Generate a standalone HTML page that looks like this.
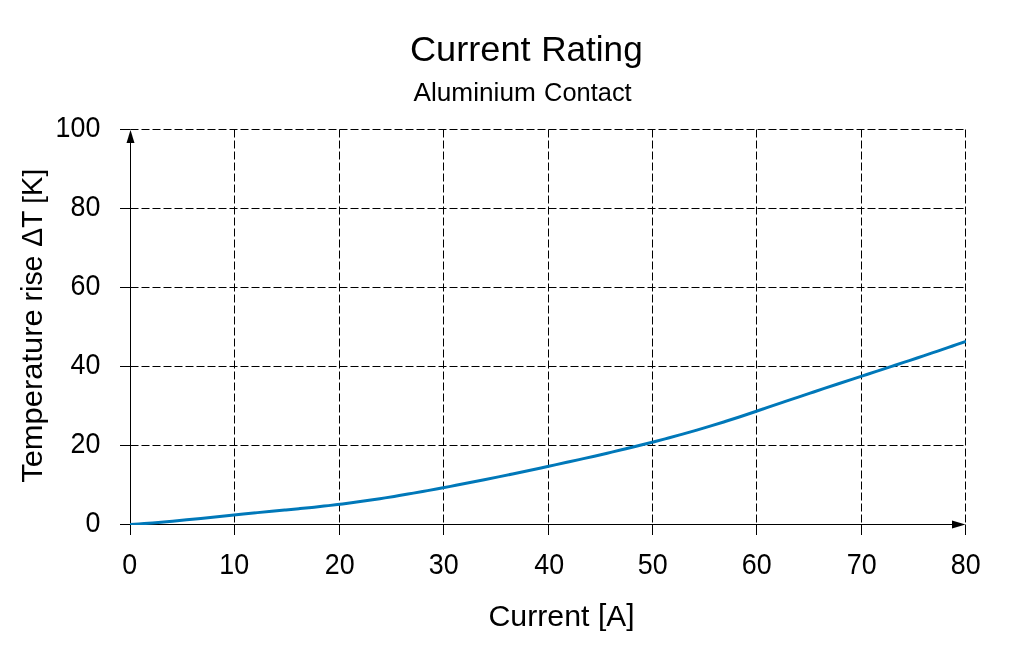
<!DOCTYPE html>
<html lang="en"><head><meta charset="utf-8"><title>Current Rating</title>
<style>html,body{margin:0;padding:0;background:#fff;}body{width:1024px;height:660px;overflow:hidden;}svg{display:block;}text{font-family:"Liberation Sans", sans-serif;fill:#000;}</style></head><body>
<svg width="1024" height="660" viewBox="0 0 1024 660">
<rect width="1024" height="660" fill="#fff"/>
<g stroke="#000" stroke-width="1" fill="none">
<line x1="130.50" y1="445.50" x2="965.50" y2="445.50" stroke-dasharray="8 3"/>
<line x1="130.50" y1="366.50" x2="965.50" y2="366.50" stroke-dasharray="8 3"/>
<line x1="130.50" y1="287.50" x2="965.50" y2="287.50" stroke-dasharray="8 3"/>
<line x1="130.50" y1="208.50" x2="965.50" y2="208.50" stroke-dasharray="8 3"/>
<line x1="130.50" y1="129.50" x2="965.50" y2="129.50" stroke-dasharray="8 3"/>
<line x1="234.50" y1="129.50" x2="234.50" y2="524.50" stroke-dasharray="8 3"/>
<line x1="339.50" y1="129.50" x2="339.50" y2="524.50" stroke-dasharray="8 3"/>
<line x1="443.50" y1="129.50" x2="443.50" y2="524.50" stroke-dasharray="8 3"/>
<line x1="548.50" y1="129.50" x2="548.50" y2="524.50" stroke-dasharray="8 3"/>
<line x1="652.50" y1="129.50" x2="652.50" y2="524.50" stroke-dasharray="8 3"/>
<line x1="756.50" y1="129.50" x2="756.50" y2="524.50" stroke-dasharray="8 3"/>
<line x1="861.50" y1="129.50" x2="861.50" y2="524.50" stroke-dasharray="8 3"/>
<line x1="965.50" y1="129.50" x2="965.50" y2="524.50" stroke-dasharray="8 3"/>
<line x1="120.00" y1="524.50" x2="130.50" y2="524.50"/>
<line x1="120.00" y1="445.50" x2="130.50" y2="445.50"/>
<line x1="120.00" y1="366.50" x2="130.50" y2="366.50"/>
<line x1="120.00" y1="287.50" x2="130.50" y2="287.50"/>
<line x1="120.00" y1="208.50" x2="130.50" y2="208.50"/>
<line x1="120.00" y1="129.50" x2="130.50" y2="129.50"/>
<line x1="130.50" y1="524.50" x2="130.50" y2="535.00"/>
<line x1="234.50" y1="524.50" x2="234.50" y2="535.00"/>
<line x1="339.50" y1="524.50" x2="339.50" y2="535.00"/>
<line x1="443.50" y1="524.50" x2="443.50" y2="535.00"/>
<line x1="548.50" y1="524.50" x2="548.50" y2="535.00"/>
<line x1="652.50" y1="524.50" x2="652.50" y2="535.00"/>
<line x1="756.50" y1="524.50" x2="756.50" y2="535.00"/>
<line x1="861.50" y1="524.50" x2="861.50" y2="535.00"/>
<line x1="965.50" y1="524.50" x2="965.50" y2="535.00"/>
<line x1="130.50" y1="535.00" x2="130.50" y2="139.50"/>
<line x1="120.00" y1="524.50" x2="955.50" y2="524.50"/>
</g>
<polygon points="130.50,130.00 126.50,143.00 134.50,143.00" fill="#000"/>
<polygon points="965.50,524.50 952.00,520.50 952.00,528.50" fill="#000"/>
<clipPath id="plotclip"><rect x="130" y="129" width="836" height="396"/></clipPath>
<path clip-path="url(#plotclip)" d="M130.00,524.53 C132.36,524.38 139.45,523.95 144.17,523.62 C148.89,523.28 153.62,522.90 158.34,522.51 C163.06,522.11 167.79,521.68 172.51,521.24 C177.23,520.80 181.95,520.33 186.68,519.86 C191.40,519.38 196.12,518.89 200.85,518.40 C205.57,517.91 210.29,517.40 215.02,516.91 C219.74,516.41 224.46,515.91 229.19,515.42 C233.91,514.94 238.63,514.46 243.36,513.99 C248.08,513.53 252.80,513.07 257.53,512.62 C262.25,512.17 266.97,511.73 271.69,511.29 C276.42,510.85 281.14,510.41 285.86,509.96 C290.59,509.51 295.31,509.06 300.03,508.60 C304.76,508.13 309.48,507.66 314.20,507.17 C318.93,506.67 323.65,506.17 328.37,505.63 C333.10,505.10 337.82,504.54 342.54,503.95 C347.27,503.36 351.99,502.73 356.71,502.08 C361.44,501.44 366.16,500.76 370.88,500.05 C375.60,499.35 380.33,498.62 385.05,497.88 C389.77,497.13 394.50,496.35 399.22,495.56 C403.94,494.77 408.67,493.96 413.39,493.14 C418.11,492.31 422.84,491.47 427.56,490.61 C432.28,489.76 437.01,488.89 441.73,488.01 C446.45,487.12 451.18,486.23 455.90,485.32 C460.62,484.41 465.34,483.49 470.07,482.57 C474.79,481.64 479.51,480.69 484.24,479.74 C488.96,478.79 493.68,477.83 498.41,476.86 C503.13,475.89 507.85,474.92 512.58,473.93 C517.30,472.94 522.02,471.95 526.75,470.95 C531.47,469.95 536.19,468.94 540.92,467.93 C545.64,466.91 550.36,465.89 555.08,464.87 C559.81,463.84 564.53,462.81 569.25,461.77 C573.98,460.73 578.70,459.69 583.42,458.63 C588.15,457.57 592.87,456.50 597.59,455.42 C602.32,454.33 607.04,453.24 611.76,452.13 C616.49,451.02 621.21,449.89 625.93,448.75 C630.66,447.61 635.38,446.45 640.10,445.27 C644.82,444.10 649.55,442.90 654.27,441.68 C658.99,440.46 663.72,439.22 668.44,437.96 C673.16,436.70 677.89,435.41 682.61,434.10 C687.33,432.79 692.06,431.45 696.78,430.09 C701.50,428.72 706.23,427.33 710.95,425.91 C715.67,424.48 720.40,423.03 725.12,421.55 C729.84,420.06 734.56,418.54 739.29,417.00 C744.01,415.45 748.73,413.86 753.46,412.27 C758.18,410.68 762.90,409.06 767.63,407.45 C772.35,405.84 777.07,404.22 781.80,402.62 C786.52,401.02 791.24,399.43 795.97,397.84 C800.69,396.26 805.41,394.68 810.14,393.11 C814.86,391.54 819.58,389.98 824.31,388.42 C829.03,386.86 833.75,385.31 838.47,383.76 C843.20,382.21 847.92,380.66 852.64,379.12 C857.37,377.58 862.09,376.04 866.81,374.49 C871.54,372.95 876.26,371.42 880.98,369.87 C885.71,368.33 890.43,366.79 895.15,365.24 C899.88,363.69 904.60,362.14 909.32,360.57 C914.05,359.01 918.77,357.45 923.49,355.87 C928.21,354.29 932.94,352.70 937.66,351.10 C942.38,349.49 947.11,347.88 951.83,346.25 C956.55,344.62 963.64,342.14 966.00,341.32" fill="none" stroke="#0078b9" stroke-width="3" stroke-linecap="butt" stroke-linejoin="round"/>
<text font-size="35.8"><tspan x="409.99" y="60.75" textLength="120.66" lengthAdjust="spacingAndGlyphs">Current</tspan> <tspan x="541.19" y="60.75" textLength="101.48" lengthAdjust="spacingAndGlyphs">Rating</tspan></text>
<text font-size="25.2"><tspan x="413.50" y="100.75" textLength="122.32" lengthAdjust="spacingAndGlyphs">Aluminium</tspan> <tspan x="544.09" y="100.75" textLength="87.61" lengthAdjust="spacingAndGlyphs">Contact</tspan></text>
<text x="85.40" y="531.70" font-size="29.2" textLength="14.92" lengthAdjust="spacingAndGlyphs">0</text>
<text x="70.48" y="452.70" font-size="29.2" textLength="29.84" lengthAdjust="spacingAndGlyphs">20</text>
<text x="70.48" y="373.70" font-size="29.2" textLength="29.84" lengthAdjust="spacingAndGlyphs">40</text>
<text x="70.48" y="294.70" font-size="29.2" textLength="29.84" lengthAdjust="spacingAndGlyphs">60</text>
<text x="70.48" y="215.70" font-size="29.2" textLength="29.84" lengthAdjust="spacingAndGlyphs">80</text>
<text x="55.56" y="136.70" font-size="29.2" textLength="44.75" lengthAdjust="spacingAndGlyphs">100</text>
<text x="122.19" y="574.30" font-size="29.2" textLength="14.92" lengthAdjust="spacingAndGlyphs">0</text>
<text x="219.37" y="574.30" font-size="29.2" textLength="29.84" lengthAdjust="spacingAndGlyphs">10</text>
<text x="324.83" y="574.30" font-size="29.2" textLength="29.84" lengthAdjust="spacingAndGlyphs">20</text>
<text x="428.83" y="574.30" font-size="29.2" textLength="29.84" lengthAdjust="spacingAndGlyphs">30</text>
<text x="534.29" y="574.30" font-size="29.2" textLength="29.84" lengthAdjust="spacingAndGlyphs">40</text>
<text x="637.83" y="574.30" font-size="29.2" textLength="29.84" lengthAdjust="spacingAndGlyphs">50</text>
<text x="741.83" y="574.30" font-size="29.2" textLength="29.84" lengthAdjust="spacingAndGlyphs">60</text>
<text x="846.83" y="574.30" font-size="29.2" textLength="29.84" lengthAdjust="spacingAndGlyphs">70</text>
<text x="950.83" y="574.30" font-size="29.2" textLength="29.84" lengthAdjust="spacingAndGlyphs">80</text>
<text font-size="28.9"><tspan x="488.45" y="625.80" textLength="101.08" lengthAdjust="spacingAndGlyphs">Current</tspan> <tspan x="597.93" y="625.80" textLength="36.57" lengthAdjust="spacingAndGlyphs"><tspan dy="-1.3">[</tspan><tspan dy="1.3">A</tspan><tspan dy="-1.3">]</tspan></tspan></text>
<g transform="translate(42.10,483.00) rotate(-90)">
<text font-size="28.9"><tspan x="0.20" y="0.00" textLength="173.54" lengthAdjust="spacingAndGlyphs">Temperature</tspan> <tspan x="181.62" y="0.00" textLength="45.84" lengthAdjust="spacingAndGlyphs">rise</tspan> <tspan x="236.20" y="0.00" textLength="35.73" lengthAdjust="spacingAndGlyphs">ΔT</tspan> <tspan x="279.23" y="0.00" textLength="34.88" lengthAdjust="spacingAndGlyphs"><tspan font-size="26.8" dy="0.3">[</tspan><tspan dy="-0.3">K</tspan><tspan font-size="26.8" dy="0.3">]</tspan></tspan></text>
</g>
</svg></body></html>
